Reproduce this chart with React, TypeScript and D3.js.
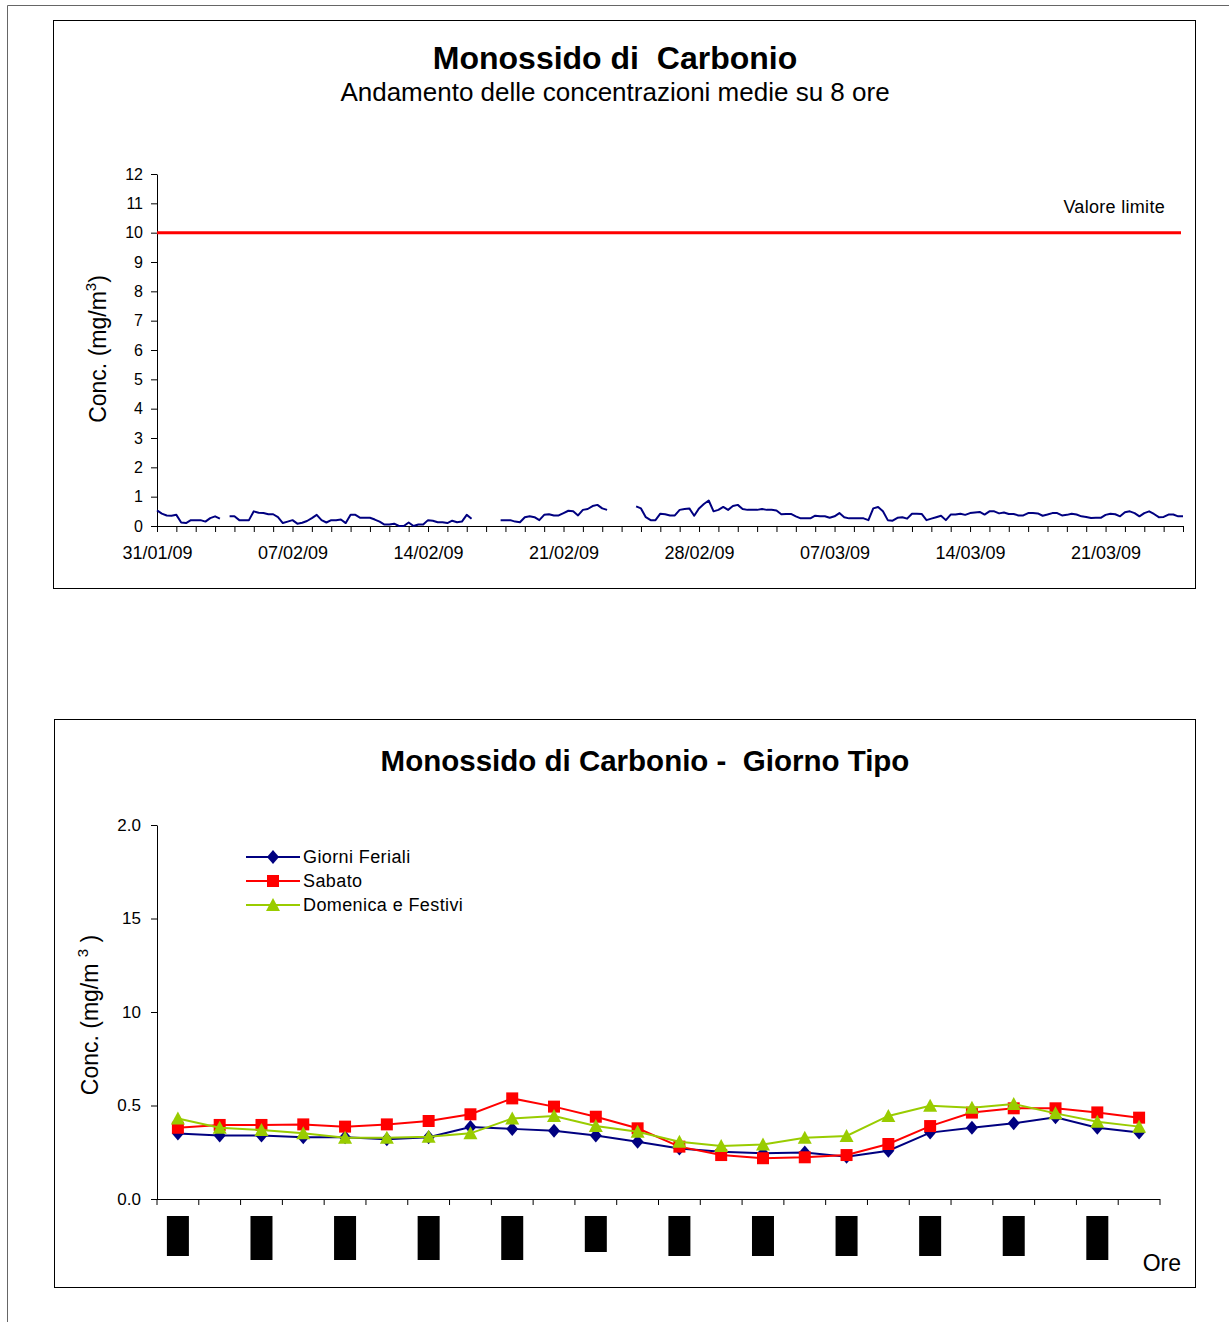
import * as d3 from 'd3'
import { useEffect, useRef } from 'react'

// ---- chart 1: CO, 8h moving average, one reading every 6 hours from 31/01/09 00:00 (null = no data)
const coStart = new Date(Date.UTC(2009, 0, 31))
const coEnd = new Date(Date.UTC(2009, 2, 25))
const coValues: (number | null)[] = [
  0.53, 0.42, 0.36, 0.35,  0.38, 0.12, 0.10, 0.20,  0.20, 0.20, 0.15, 0.27,  0.33, 0.25, null, 0.33,
  0.33, 0.20, 0.20, 0.20,  0.50, 0.45, 0.44, 0.40,  0.40, 0.30, 0.10, 0.15,  0.20, 0.08, 0.11, 0.17,
  0.27, 0.38, 0.20, 0.12,  0.20, 0.20, 0.22, 0.10,  0.38, 0.38, 0.28, 0.28,  0.28, 0.22, 0.15, 0.05,
  0.05, 0.08, 0.00, 0.00,  0.12, 0.00, 0.05, 0.05,  0.20, 0.18, 0.13, 0.13,  0.10, 0.18, 0.13, 0.15,
  0.38, 0.25, null, null,  null, null, null, 0.20,  0.20, 0.20, 0.15, 0.13,  0.30, 0.33, 0.30, 0.20,
  0.38, 0.40, 0.36, 0.36,  0.44, 0.52, 0.50, 0.36,  0.55, 0.58, 0.68, 0.72,  0.60, 0.55, null, null,
  null, null, null, 0.67,  0.60, 0.30, 0.20, 0.20,  0.42, 0.40, 0.36, 0.36,  0.55, 0.58, 0.60, 0.35,
  0.60, 0.75, 0.87, 0.50,  0.55, 0.65, 0.55, 0.68,  0.72, 0.58, 0.55, 0.55,  0.55, 0.58, 0.55, 0.55,
  0.53, 0.40, 0.41, 0.41,  0.33, 0.26, 0.26, 0.26,  0.35, 0.33, 0.33, 0.28,  0.33, 0.44, 0.30, 0.26,
  0.26, 0.26, 0.26, 0.20,  0.60, 0.65, 0.50, 0.20,  0.18, 0.28, 0.30, 0.25,  0.42, 0.42, 0.41, 0.20,
  0.25, 0.30, 0.35, 0.20,  0.39, 0.39, 0.42, 0.38,  0.44, 0.46, 0.48, 0.39,  0.50, 0.50, 0.43, 0.46,
  0.41, 0.41, 0.36, 0.36,  0.44, 0.44, 0.43, 0.35,  0.39, 0.44, 0.44, 0.36,  0.38, 0.42, 0.39, 0.33,
  0.31, 0.27, 0.28, 0.28,  0.38, 0.42, 0.40, 0.33,  0.47, 0.50, 0.44, 0.33,  0.44, 0.50, 0.41, 0.30,
  0.31, 0.39, 0.39, 0.33,  0.33,
]
const stepHours = 6
const limitValue = 10
const topYTicks = [0, 1, 2, 3, 4, 5, 6, 7, 8, 9, 10, 11, 12]

// ---- chart 2: typical day
const hours = ['1', '2', '3', '4', '5', '6', '7', '8', '9', '10', '11', '12',
  '13', '14', '15', '16', '17', '18', '19', '20', '21', '22', '23', '24']
const feriali = [0.35, 0.34, 0.34, 0.33, 0.33, 0.32, 0.33, 0.385, 0.375, 0.365, 0.34, 0.306,
  0.27, 0.253, 0.244, 0.248, 0.226, 0.258, 0.355, 0.381, 0.405, 0.437, 0.381, 0.355]
const sabato = [0.381, 0.396, 0.396, 0.399, 0.387, 0.399, 0.417, 0.453, 0.538, 0.494, 0.44, 0.378,
  0.28, 0.235, 0.218, 0.223, 0.235, 0.294, 0.39, 0.462, 0.485, 0.485, 0.463, 0.435]
const domenica = [0.43, 0.381, 0.369, 0.351, 0.328, 0.328, 0.333, 0.351, 0.431, 0.444, 0.39, 0.36,
  0.306, 0.283, 0.292, 0.328, 0.337, 0.444, 0.499, 0.488, 0.508, 0.458, 0.413, 0.387]
const seriesNames = ['Giorni Feriali', 'Sabato', 'Domenica e Festivi']
const bottomYTicks = [0, 0.5, 1, 1.5, 2]
const bottomYLabels = ['0.0', '0.5', '10', '15', '2.0']

const font = "'Liberation Sans', Arial, sans-serif"
// the hour labels come out as solid black blocks in the original
const blockHeights = [40, 44, 44, 44, 44, 36, 40, 40, 40, 40, 40, 44]

export default function App() {
  const ref = useRef<SVGSVGElement>(null)

  useEffect(() => {
    const svg = d3.select(ref.current)
    svg.selectAll('*').remove()
    svg.style('font-family', font)

    // page edge
    svg.append('path').attr('d', 'M7.5,1322V5.5H1229').attr('fill', 'none').attr('stroke', '#666').attr('stroke-width', 1)

    // ================= top chart =================
    svg.append('rect').attr('x', 53.5).attr('y', 20.5).attr('width', 1142).attr('height', 568)
      .attr('fill', 'none').attr('stroke', '#000')

    svg.append('text').attr('x', 615).attr('y', 69).attr('text-anchor', 'middle')
      .attr('font-size', 32).attr('font-weight', 'bold').style('white-space', 'pre')
      .text('Monossido di  Carbonio')
    svg.append('text').attr('x', 615).attr('y', 101).attr('text-anchor', 'middle')
      .attr('font-size', 26).text('Andamento delle concentrazioni medie su 8 ore')

    const x = d3.scaleUtc().domain([coStart, coEnd]).range([157, 1183])
    const y = d3.scaleLinear().domain([0, 12]).range([526, 174])
    const fmt = d3.utcFormat('%d/%m/%y')

    const yAxis = svg.append('g').attr('transform', 'translate(157,0)')
      .call(d3.axisLeft(y).tickValues(topYTicks).tickSize(6).tickSizeOuter(0).tickPadding(8).tickFormat(d3.format('d')))
    yAxis.selectAll('text').attr('font-size', 16).attr('font-family', font)

    const xAxis = svg.append('g').attr('transform', 'translate(0,526)')
      .call(d3.axisBottom(x).ticks(d3.utcDay.every(1)).tickSize(6).tickSizeOuter(0)
        // @ts-ignore
        .tickFormat((d: Date, i: number) => (i % 7 === 0 ? fmt(d) : '')))
    xAxis.selectAll('text').attr('font-size', 18).attr('font-family', font).attr('y', 33).attr('dy', 0)

    svg.append('line').attr('x1', 157).attr('x2', 1181).attr('y1', y(limitValue)).attr('y2', y(limitValue))
      .attr('stroke', '#ff0000').attr('stroke-width', 3)
    svg.append('text').attr('x', 1165).attr('y', 213).attr('text-anchor', 'end').attr('font-size', 18)
      .attr('letter-spacing', 0.3).text('Valore limite')

    const line = d3.line<number | null>()
      .defined(d => d != null)
      .x((d, i) => x(new Date(coStart.getTime() + i * stepHours * 3600e3)))
      .y(d => y(d as number))
    svg.append('path').datum(coValues).attr('d', line).attr('fill', 'none')
      .attr('stroke', '#000080').attr('stroke-width', 2).attr('stroke-linejoin', 'round')

    const t1 = svg.append('text').attr('transform', 'translate(106,349) rotate(-90)')
      .attr('text-anchor', 'middle').attr('font-size', 23)
    t1.append('tspan').text('Conc. (mg/m')
    t1.append('tspan').attr('dy', -10).attr('font-size', 15).text('3')
    t1.append('tspan').attr('dy', 10).text(')')

    // ================= bottom chart =================
    svg.append('rect').attr('x', 54.5).attr('y', 719.5).attr('width', 1141).attr('height', 568)
      .attr('fill', 'none').attr('stroke', '#000')

    svg.append('text').attr('x', 645).attr('y', 771).attr('text-anchor', 'middle')
      .attr('font-size', 29.5).attr('font-weight', 'bold').style('white-space', 'pre')
      .text('Monossido di Carbonio -  Giorno Tipo')

    const xb = d3.scaleBand().domain(hours).range([157, 1160])
    const yb = d3.scaleLinear().domain([0, 2]).range([1199, 825])
    const cx = (h: string) => (xb(h) as number) + xb.bandwidth() / 2

    const yAxisB = svg.append('g').attr('transform', 'translate(157,0)')
      .call(d3.axisLeft(yb).tickValues(bottomYTicks).tickSize(6).tickSizeOuter(0).tickPadding(10)
        // @ts-ignore
        .tickFormat((d: number, i: number) => bottomYLabels[i]))
    yAxisB.selectAll('text').attr('font-size', 17).attr('font-family', font)

    const bounds = [...hours.map(h => xb(h) as number), xb.range()[1]]
    svg.append('line').attr('x1', 157).attr('x2', 1160).attr('y1', 1199.5).attr('y2', 1199.5).attr('stroke', '#000')
    svg.append('g').selectAll('line').data(bounds).join('line')
      .attr('x1', d => d).attr('x2', d => d).attr('y1', 1199).attr('y2', 1205).attr('stroke', '#000')

    svg.append('g').selectAll('rect').data(hours.filter((h, i) => i % 2 === 0)).join('rect')
      .attr('x', d => cx(d) - 11).attr('y', 1216).attr('width', 22)
      .attr('height', (d, i) => blockHeights[i]).attr('fill', '#000')

    svg.append('text').attr('x', 1181).attr('y', 1271).attr('text-anchor', 'end').attr('font-size', 23).text('Ore')

    const t2 = svg.append('text').attr('transform', 'translate(98,1015) rotate(-90)')
      .attr('text-anchor', 'middle').attr('font-size', 23).style('white-space', 'pre')
    t2.append('tspan').text('Conc. (mg/m ')
    t2.append('tspan').attr('dy', -10).attr('font-size', 15).text('3')
    t2.append('tspan').attr('dy', 10).text(' )')

    const diamond = 'M0,-7L6,0L0,7L-6,0Z'
    const square = 'M-6,-6H6V6H-6Z'
    const triangle = 'M0,-7L7,6H-7Z'
    const series = [
      { name: seriesNames[0], values: feriali, color: '#000080', marker: diamond },
      { name: seriesNames[1], values: sabato, color: '#ff0000', marker: square },
      { name: seriesNames[2], values: domenica, color: '#99cc00', marker: triangle },
    ]
    const lineB = d3.line<number>().x((d, i) => cx(hours[i])).y(d => yb(d))

    series.forEach(s => {
      const g = svg.append('g')
      g.append('path').datum(s.values).attr('d', lineB).attr('fill', 'none')
        .attr('stroke', s.color).attr('stroke-width', 2)
      g.selectAll('path.m').data(s.values).join('path').attr('class', 'm')
        .attr('d', s.marker).attr('fill', s.color)
        .attr('transform', (d, i) => `translate(${cx(hours[i])},${yb(d)})`)
    })

    // legend
    const lg = svg.append('g').selectAll('g').data(series).join('g')
      .attr('transform', (d, i) => `translate(0,${857 + i * 24})`)
    lg.append('line').attr('x1', 246).attr('x2', 300).attr('stroke', d => d.color).attr('stroke-width', 2)
    lg.append('path').attr('d', d => d.marker).attr('fill', d => d.color).attr('transform', 'translate(273,0)')
    lg.append('text').attr('x', 303).attr('y', 6).attr('font-size', 18).attr('letter-spacing', 0.4).text(d => d.name)
  }, [])

  return (
    <svg ref={ref} width={1229} height={1322}
      style={{ position: 'absolute', left: 0, top: 0, background: '#fff' }} />
  )
}
